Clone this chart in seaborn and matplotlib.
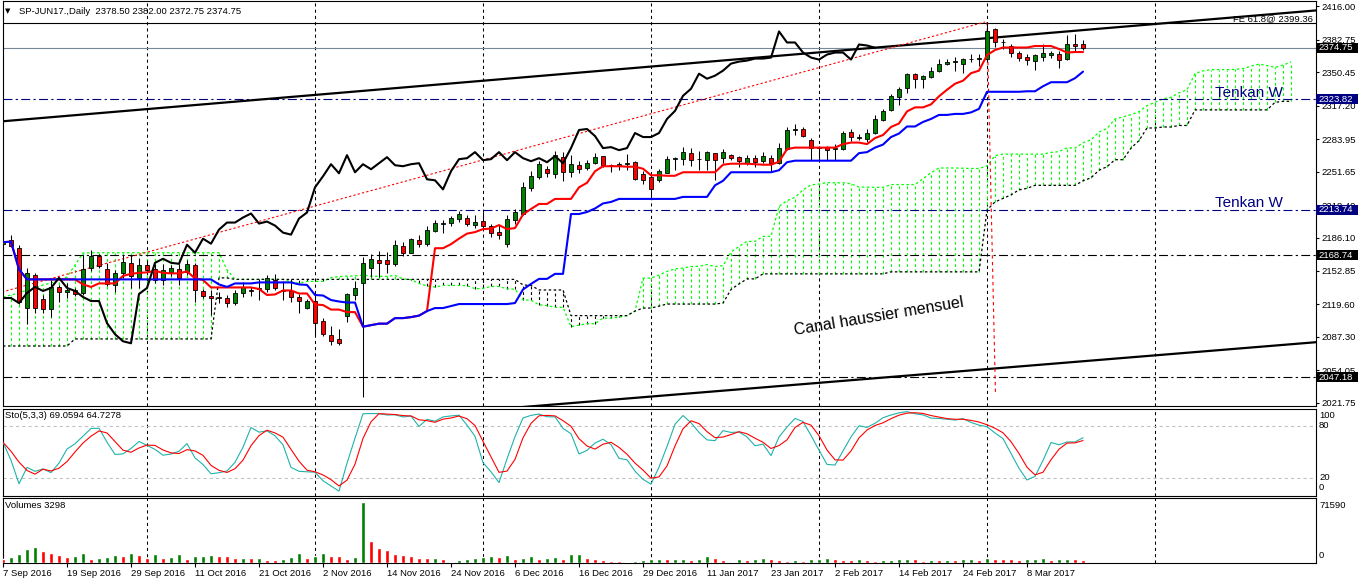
import numpy as np
import pandas as pd
import matplotlib
matplotlib.use("Agg")
import matplotlib.pyplot as plt
import matplotlib.transforms as mtransforms
from matplotlib.patches import Rectangle
import seaborn as sns

sns.set_theme(style="white")
plt.rcParams['font.family'] = ['Liberation Sans', 'DejaVu Sans']

W, H = 1358, 584

# ---------------- data ----------------
opens = [2180, 2184, 2176, 2116, 2149, 2125, 2115, 2137, 2132, 2134,
         2131, 2156, 2168, 2155, 2139, 2151, 2161, 2146, 2159, 2155,
         2144, 2152, 2155, 2152, 2159, 2133, 2128, 2127, 2126, 2121,
         2131, 2134, 2135, 2135, 2144, 2134, 2133, 2127, 2116, 2123,
         2103, 2089, 2085, 2108, 2129, 2141, 2156, 2164, 2164, 2160,
         2178, 2171, 2184, 2180, 2193, 2200, 2201, 2205, 2206, 2199,
         2203, 2198, 2192, 2180, 2204, 2210, 2235, 2246, 2254, 2249,
         2266, 2251, 2258, 2255, 2260, 2267, 2258, 2257, 2259, 2261,
         2249, 2246, 2243, 2250, 2264, 2264, 2270, 2264, 2263, 2270,
         2265, 2268, 2266, 2260, 2265, 2262, 2265, 2260, 2274, 2293,
         2294, 2283, 2275, 2276, 2274, 2274, 2291, 2285, 2284, 2290,
         2303, 2313, 2326, 2335, 2349, 2344, 2346, 2352, 2359, 2361,
         2359, 2364, 2364, 2364, 2393, 2380, 2377, 2370, 2366, 2362,
         2366, 2368, 2369, 2364, 2378, 2378.50]
highs = [2188, 2189, 2179, 2156, 2151, 2129, 2144, 2139, 2141, 2136,
         2169, 2174, 2170, 2161, 2154, 2169, 2169, 2166, 2164, 2160,
         2160, 2159, 2160, 2164, 2161, 2135, 2134, 2132, 2129, 2134,
         2142, 2137, 2145, 2149, 2150, 2143, 2145, 2130, 2125, 2129,
         2106, 2098, 2095, 2131, 2143, 2167, 2170, 2173, 2172, 2184,
         2182, 2186, 2189, 2198, 2204, 2204, 2208, 2212, 2209, 2209,
         2211, 2200, 2199, 2209, 2214, 2241, 2252, 2262, 2257, 2272,
         2271, 2268, 2262, 2263, 2270, 2267, 2259, 2261, 2269, 2262,
         2252, 2248, 2254, 2267, 2266, 2276, 2275, 2272, 2272, 2270,
         2274, 2269, 2267, 2268, 2268, 2271, 2268, 2280, 2296, 2299,
         2296, 2285, 2277, 2277, 2279, 2292, 2294, 2289, 2294, 2308,
         2314, 2329, 2336, 2350, 2350, 2348, 2356, 2364, 2364, 2366,
         2365, 2369, 2369, 2400, 2394, 2383, 2378, 2372, 2369, 2369,
         2378, 2372, 2372, 2387, 2388, 2382.00]
lows = [2175, 2177, 2120, 2100, 2111, 2111, 2107, 2122, 2126, 2128,
        2129, 2153, 2156, 2138, 2132, 2146, 2136, 2136, 2150, 2141,
        2139, 2148, 2139, 2149, 2122, 2126, 2109, 2121, 2117, 2119,
        2127, 2128, 2124, 2132, 2134, 2124, 2122, 2111, 2115, 2089,
        2088, 2079, 2079, 2102, 2124, 2028, 2147, 2147, 2151, 2158,
        2168, 2171, 2177, 2178, 2192, 2191, 2198, 2202, 2198, 2196,
        2196, 2187, 2185, 2177, 2200, 2209, 2232, 2244, 2246, 2245,
        2242, 2246, 2250, 2253, 2259, 2256, 2251, 2253, 2253, 2243,
        2239, 2226, 2241, 2250, 2253, 2258, 2257, 2253, 2253, 2243,
        2260, 2263, 2256, 2258, 2256, 2260, 2252, 2259, 2273, 2288,
        2286, 2263, 2262, 2263, 2263, 2273, 2282, 2283, 2281, 2289,
        2302, 2312, 2318, 2330, 2335, 2335, 2345, 2351, 2358, 2352,
        2350, 2361, 2357, 2363, 2376, 2374, 2366, 2362, 2358, 2353,
        2362, 2365, 2355, 2363, 2371, 2372.75]
closes = [2183, 2178, 2122, 2151, 2116, 2115, 2137, 2132, 2134, 2130,
          2155, 2168, 2158, 2140, 2151, 2162, 2148, 2159, 2154, 2144,
          2154, 2156, 2146, 2160, 2134, 2128, 2126, 2126, 2121, 2131,
          2137, 2133, 2136, 2146, 2136, 2133, 2127, 2123, 2123, 2101,
          2090, 2083, 2081, 2130, 2136, 2161, 2165, 2161, 2160, 2179,
          2171, 2185, 2180, 2194, 2201, 2201, 2206, 2210, 2200, 2202,
          2198, 2191, 2189, 2205, 2211, 2236, 2247, 2259, 2250, 2268,
          2251, 2259, 2254, 2260, 2266, 2258, 2257, 2259, 2260, 2244,
          2243, 2234, 2252, 2264, 2265, 2271, 2263, 2264, 2271, 2263,
          2271, 2265, 2262, 2265, 2261, 2267, 2260, 2275, 2293, 2294,
          2287, 2275, 2276, 2273, 2275, 2290, 2286, 2286, 2290, 2304,
          2312, 2327, 2334, 2349, 2344, 2347, 2352, 2359, 2361, 2362,
          2364, 2364, 2365, 2391, 2380, 2380, 2370, 2365, 2363, 2368,
          2370, 2370, 2363, 2378, 2377, 2374.75]
volumes = [5100, 7100, 10700, 17000, 19400, 14200, 11500, 9500, 7500, 7800,
           11900, 5100, 5900, 7100, 9100, 8300, 11900, 9500, 5900, 10300,
           6300, 6500, 10300, 5100, 8300, 8400, 9500, 8300, 7900, 5900,
           6300, 5500, 5900, 3600, 3200, 5100, 6700, 11900, 5500, 8700,
           11900, 8300, 7900, 4300, 7100, 71590, 26500, 18200, 15800, 11100,
           9100, 7900, 6300, 5500, 6300, 4300, 1600, 3600, 5100, 5500,
           7100, 8300, 7100, 9500, 5100, 5900, 7900, 5100, 5900, 6700,
           5100, 10700, 10800, 5900, 4300, 3600, 2400, 2000, 1200, 2400,
           3200, 4300, 5100, 4300, 4700, 5100, 4000, 4700, 7900, 5900,
           4000, 1600, 4700, 4000, 4300, 5900, 4700, 3600, 2400, 3600,
           2800, 4300, 5100, 5900, 4700, 3600, 3500, 4300, 3200, 2800,
           3600, 4000, 4300, 5100, 4300, 2000, 3600, 3200, 4000, 3600,
           4300, 5100, 4000, 5500, 5100, 4700, 4300, 3200, 4300, 4700,
           5900, 3200, 4300, 5100, 4700, 3298]
# cloud values at the left edge (carried over from history before the window)
senkou_a_start = [2127.0, 2129.0, 2131.0, 2134.0, 2136.0, 2138.9, 2140.9, 2143.9,
                  2146.9, 2158.8, 2170.7] + [2171.0] * 17 + [2154.0]
senkou_b_start = [2078.3] * 9 + [2085.3] * 18 + [2146.0, 2146.0]

date_labels = ["7 Sep 2016", "19 Sep 2016", "29 Sep 2016", "11 Oct 2016",
               "21 Oct 2016", "2 Nov 2016", "14 Nov 2016", "24 Nov 2016",
               "6 Dec 2016", "16 Dec 2016", "29 Dec 2016", "11 Jan 2017",
               "23 Jan 2017", "2 Feb 2017", "14 Feb 2017", "24 Feb 2017",
               "8 Mar 2017"]
date_bars = [0, 8, 16, 24, 32, 40, 48, 56, 64, 72, 80, 88, 96, 104, 112, 120, 128]
grid_bars = [18, 39, 60, 81, 102, 123, 144]
price_ticks = [2416.00, 2382.75, 2350.45, 2317.20, 2283.95, 2251.65, 2218.40,
               2186.10, 2152.85, 2119.60, 2087.30, 2054.05, 2021.75]
level_tenkan_w = [2323.82, 2213.74]
level_black = [2168.74, 2047.18]
bid_price = 2374.75
fe_level = 2399.36
upper_channel_bars = [-0.375, 164.125]
upper_channel_prices = [2301.45, 2411.86]
lower_channel_bars = [62.125, 164.125]
lower_channel_prices = [2015.77, 2082.07]
fe_leg1_bars = [-0.125, 122.75]
fe_leg1_prices = [2131.97, 2400.36]
fe_leg2_bars = [123.0, 124.06]
fe_leg2_prices = [2400.36, 2029.6]
vol_max_label = 71590

# ---------------- indicators (as computed by the platform) ----------------
df = pd.DataFrame({"open": opens, "high": highs, "low": lows, "close": closes,
                   "volume": volumes})
n = len(df)
idx = np.arange(n)

def mid(period):
    return (df.high.rolling(period, min_periods=1).max() +
            df.low.rolling(period, min_periods=1).min()) / 2

tenkan = mid(9)
kijun = mid(26)
base_b = mid(52)
k0 = len(senkou_a_start)
span_a = np.empty(n + 26)
span_b = np.empty(n + 26)
span_a[:k0] = senkou_a_start
span_b[:k0] = senkou_b_start
span_a[k0:] = ((tenkan + kijun) / 2).values[k0 - 26:]
span_b[k0:] = base_b.values[k0 - 26:]
cloud_idx = np.arange(n + 26)

ll5 = df.low.rolling(5, min_periods=1).min()
hh5 = df.high.rolling(5, min_periods=1).max()
sto_k = 100 * (df.close - ll5).rolling(3, min_periods=1).sum() / \
    (hh5 - ll5).rolling(3, min_periods=1).sum()
sto_d = sto_k.rolling(3, min_periods=1).mean()

# ---------------- figure ----------------
fig = plt.figure(figsize=(W / 100, H / 100), dpi=100)
fig.patch.set_facecolor("white")

def axes_rect(x0, x1, y0, y1):
    return [x0 / W, 1 - y1 / H, (x1 - x0) / W, (y1 - y0) / H]

ax = fig.add_axes(axes_rect(2.5, 1315.5, 1, 406))
ax_s = fig.add_axes(axes_rect(2.5, 1315.5, 409, 495.5))
ax_v = fig.add_axes(axes_rect(2.5, 1315.5, 497.5, 563))

XL = (-0.0625, 164.06)
for a in (ax, ax_s, ax_v):
    a.set_facecolor("white")
    a.set_xlim(*XL)
    for sp in a.spines.values():
        sp.set_color("black")
        sp.set_linewidth(0.8)
    a.grid(False)
    for b in grid_bars:
        a.axvline(b, color="black", lw=0.75, ls=(0, (3, 3)), zorder=0.5)

# main panel limits: pixel y = 99 + (2323.82 - p) * 1.006
ax.set_ylim(2323.82 - 307 / 1.006, 2323.82 + 98 / 1.006)

# cloud hatch + edges
lo = np.minimum(span_a, span_b)
hi = np.maximum(span_a, span_b)
hatch_colors = np.where(span_a >= span_b, "#00FF00", "black")
ax.vlines(cloud_idx, lo, hi, colors=hatch_colors, lw=0.8,
          linestyles=(0, (2.5, 2.5)), zorder=1)
sns.lineplot(x=cloud_idx, y=span_a, color="#00FF00", lw=0.9,
             linestyle=(0, (2, 2)), ax=ax, zorder=1.5, legend=False)
sns.lineplot(x=cloud_idx, y=span_b, color="black", lw=0.9,
             linestyle=(0, (2, 2)), ax=ax, zorder=1.5, legend=False)

# user horizontal lines
for lv in level_tenkan_w:
    ax.axhline(lv, color="#000080", lw=0.8, ls=(0, (8, 3, 2, 3)), zorder=2)
for lv in level_black:
    ax.axhline(lv, color="black", lw=0.8, ls=(0, (8, 3, 2, 3)), zorder=2)
ax.axhline(bid_price, color="#778899", lw=0.8, zorder=2)
ax.axhline(fe_level, color="black", lw=0.8, zorder=2)

# trend channel and Fibonacci expansion legs
ax.plot(upper_channel_bars, upper_channel_prices, color="black", lw=1.6, zorder=2.5)
ax.plot(lower_channel_bars, lower_channel_prices, color="black", lw=1.6, zorder=2.5)
ax.plot(fe_leg1_bars, fe_leg1_prices, color="#FF0000", lw=0.8, ls=(0, (2, 2)), zorder=2.5)
ax.plot(fe_leg2_bars, fe_leg2_prices, color="#FF0000", lw=0.8, ls=(0, (3, 3)), zorder=2.5)

# candles
o = np.array(opens, float); c = np.array(closes, float)
up = c >= o
ax.vlines(idx, lows, highs, color="black", lw=0.75, zorder=3)
ax.bar(idx, np.maximum(np.abs(c - o), 0.05), bottom=np.minimum(o, c), width=0.62,
       color=np.where(up, "#008000", "#FF0000"), edgecolor="black",
       linewidth=0.6, zorder=3.5)

# ichimoku lines
sns.lineplot(x=idx, y=tenkan.values, color="#FF0000", lw=1.5, ax=ax, zorder=4, legend=False)
sns.lineplot(x=idx, y=kijun.values, color="#0000FF", lw=1.5, ax=ax, zorder=4, legend=False)
sns.lineplot(x=idx[:n - 26], y=np.array(closes[26:]), color="black", lw=1.5,
             ax=ax, zorder=4, legend=False)

# texts in main panel
ax.text(151.5, 2325.8, "Tenkan W", color="#000080", fontsize=11, va="baseline",
        ha="left", zorder=6)
ax.text(151.5, 2216.4, "Tenkan W", color="#000080", fontsize=11, va="baseline",
        ha="left", zorder=6)
ax.text(99, 2089.2, "Canal haussier mensuel", color="black", fontsize=11.5,
        rotation=9.5, rotation_mode="anchor", ha="left", va="baseline", zorder=6)
ax.text(163.75, 2400.7, "FE 61.8@ 2399.36", color="black", fontsize=6.8,
        ha="right", va="baseline", zorder=6)

# right price scale
ax.set_xticks([])
ax.yaxis.tick_right()
ax.set_yticks(price_ticks)
ax.set_yticklabels([f"{v:.2f}" for v in price_ticks])
ax.tick_params(axis="y", which="both", right=True, left=False, length=2.5,
               width=0.8, color="black", direction="out", labelsize=6.8, pad=2,
               labelcolor="black")

blend = mtransforms.blended_transform_factory(fig.transFigure, ax.transData)
boxes = [(bid_price, "black"), (level_tenkan_w[0], "#000080"),
         (level_tenkan_w[1], "#000080"), (level_black[0], "black"),
         (level_black[1], "black")]
for val, col in boxes:
    ax.add_patch(Rectangle((1316 / W, val - 5.0), 42 / W, 10.0, transform=blend,
                           facecolor=col, edgecolor="none", clip_on=False, zorder=10))
    ax.text(1318.5 / W, val, f"{val:.2f}", transform=blend, color="white",
            fontsize=6.8, va="center", ha="left", clip_on=False, zorder=11)

# header
fig.text(5 / W, 1 - 11.5 / H, "\u25BC", fontsize=5, va="center", ha="left",
         color="black", family=["DejaVu Sans"])
fig.text(19 / W, 1 - 11.5 / H, "SP-JUN17.,Daily  2378.50 2382.00 2372.75 2374.75",
         fontsize=6.8, va="center", ha="left", color="black")

# ---------------- stochastic ----------------
ax_s.set_ylim(0, 100)
ax_s.axhline(80, color="#C0C0C0", lw=0.75, ls=(0, (3, 3)), zorder=1)
ax_s.axhline(20, color="#C0C0C0", lw=0.75, ls=(0, (3, 3)), zorder=1)
sns.lineplot(x=idx, y=sto_k.values, color="#20B2AA", lw=0.8, ax=ax_s, zorder=3, legend=False)
sns.lineplot(x=idx, y=sto_d.values, color="#FF0000", lw=0.8, ax=ax_s, zorder=3, legend=False)
ax_s.set_xticks([]); ax_s.set_yticks([])
ax_s.set_xlabel(""); ax_s.set_ylabel("")
fig.text(5 / W, 1 - 415 / H, "Sto(5,3,3) 69.0594 64.7278", fontsize=6.8,
         va="center", ha="left", color="black")
for lab, yp in (("100", 415), ("80", 426), ("20", 477), ("0", 488)):
    fig.text(1319 / W, 1 - yp / H, lab, fontsize=6.8, va="center", ha="left", color="black")

# ---------------- volumes ----------------
vol = np.array(volumes, float)
vol_colors = ["#FF0000"] + ["#008000" if vol[i] > vol[i - 1] else "#FF0000"
                            for i in range(1, n)]
ax_v.bar(idx, vol, width=0.5, color=vol_colors, zorder=3)
ax_v.set_ylim(0, vol_max_label * 65.5 / 60.7)
ax_v.set_yticks([])
ax_v.set_xticks(date_bars)
ax_v.set_xticklabels(date_labels)
for t in ax_v.get_xticklabels():
    t.set_horizontalalignment("left")
ax_v.tick_params(axis="x", bottom=True, length=3, width=0.8, color="black",
                 direction="out", labelsize=6.8, pad=1.5, labelcolor="black")
fig.text(5 / W, 1 - 506 / H, "Volumes 3298", fontsize=6.8, va="center",
         ha="left", color="black")
fig.text(1319 / W, 1 - 505 / H, f"{vol_max_label}", fontsize=6.8, va="center",
         ha="left", color="black")
fig.text(1319 / W, 1 - 556 / H, "0", fontsize=6.8, va="center", ha="left", color="black")

for a in (ax, ax_s, ax_v):
    a.set_xlabel(""); a.set_ylabel("")
    a.set_xlim(*XL)

fig.savefig("out.png", dpi=100, facecolor="white")
